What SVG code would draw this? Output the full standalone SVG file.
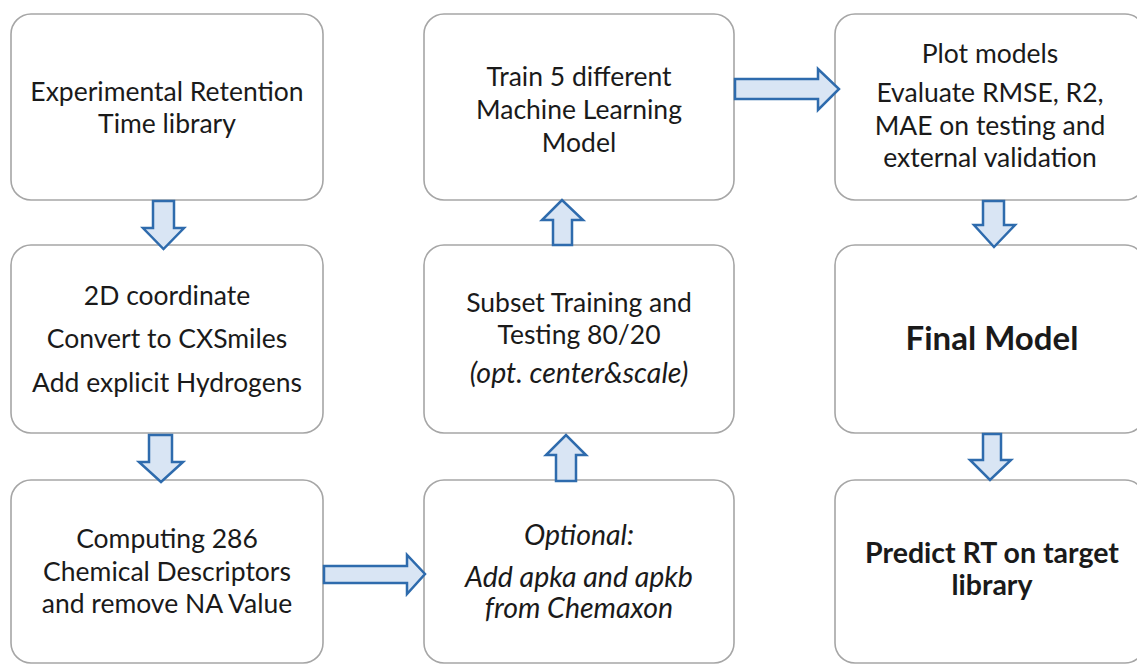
<svg xmlns="http://www.w3.org/2000/svg" width="1137" height="665" viewBox="0 0 1137 665">
<style>
.box{fill:#fff;stroke:#a6a6a6;stroke-width:1.6}
.t{font-family:Lato,"Open Sans",sans-serif;font-size:26.5px;fill:#1a1a1a;text-anchor:middle}
.i{font-style:italic;font-size:28.5px}
.b{font-weight:bold}
.arr{fill:#d9e5f4;stroke:#2e6bad;stroke-width:2.5;stroke-linejoin:miter}
</style>
<rect width="1137" height="665" fill="#fff"/>
<g id="n1"><rect class="box" x="11" y="14" width="312" height="186" rx="20"/>
<text class="t" x="167" y="101">Experimental Retention</text>
<text class="t" x="167" y="133">Time library</text></g>
<g id="n2"><rect class="box" x="11" y="245" width="312" height="188" rx="20"/>
<text class="t" x="167" y="305">2D coordinate</text>
<text class="t" x="167" y="348">Convert to CXSmiles</text>
<text class="t" x="167" y="392">Add explicit Hydrogens</text></g>
<g id="n3"><rect class="box" x="11" y="480" width="312" height="183" rx="20"/>
<text class="t" x="167" y="548">Computing 286</text>
<text class="t" x="167" y="581">Chemical Descriptors</text>
<text class="t" x="167" y="613">and remove NA Value</text></g>
<g id="n4"><rect class="box" x="424" y="14" width="310" height="186" rx="20"/>
<text class="t" x="579" y="86">Train 5 different</text>
<text class="t" x="579" y="119">Machine Learning</text>
<text class="t" x="579" y="152">Model</text></g>
<g id="n5"><rect class="box" x="424" y="245" width="310" height="188" rx="20"/>
<text class="t" x="579" y="312">Subset Training and</text>
<text class="t" x="579" y="344">Testing 80/20</text>
<text class="t i" x="579" y="383">(opt. center&amp;scale)</text></g>
<g id="n6"><rect class="box" x="424" y="480" width="310" height="183" rx="20"/>
<text class="t i" x="579" y="545">Optional:</text>
<text class="t i" x="579" y="587">Add apka and apkb</text>
<text class="t i" x="579" y="618">from Chemaxon</text></g>
<g id="n7"><rect class="box" x="835" y="14" width="310" height="186" rx="20"/>
<text class="t" x="990" y="63">Plot models</text>
<text class="t" x="990" y="102">Evaluate RMSE, R2,</text>
<text class="t" x="990" y="135">MAE on testing and</text>
<text class="t" x="990" y="167">external validation</text></g>
<g id="n8"><rect class="box" x="835" y="245" width="310" height="188" rx="20"/>
<text class="t b" x="992" y="350" style="font-size:33px">Final Model</text></g>
<g id="n9"><rect class="box" x="835" y="480" width="310" height="183" rx="20"/>
<text class="t b" x="992" y="563" style="font-size:28.5px">Predict RT on target</text>
<text class="t b" x="992" y="595" style="font-size:28.5px">library</text></g>
<g id="connectors">
<polygon class="arr" points="153,201 174,201 174,228 184,228 163.5,249 143,228 153,228"/>
<polygon class="arr" points="149,435 172,435 172,462 183,462 161,482 139,462 149,462"/>
<polygon class="arr" points="324,566 407,566 407,555 425,574 407,594 407,583 324,583"/>
<polygon class="arr" points="556,481 576,481 576,455 586,455 566,435 546,455 556,455"/>
<polygon class="arr" points="553,245 572,245 572,220 583,220 562,200 542,220 553,220"/>
<polygon class="arr" points="735,79 818,79 818,69 839,89 818,110 818,99 735,99"/>
<polygon class="arr" points="983,201 1004,201 1004,225 1015,225 994,247 974,225 983,225"/>
<polygon class="arr" points="983,434 1001,434 1001,460 1011,460 990,480 970,460 983,460"/>
</g>
</svg>
